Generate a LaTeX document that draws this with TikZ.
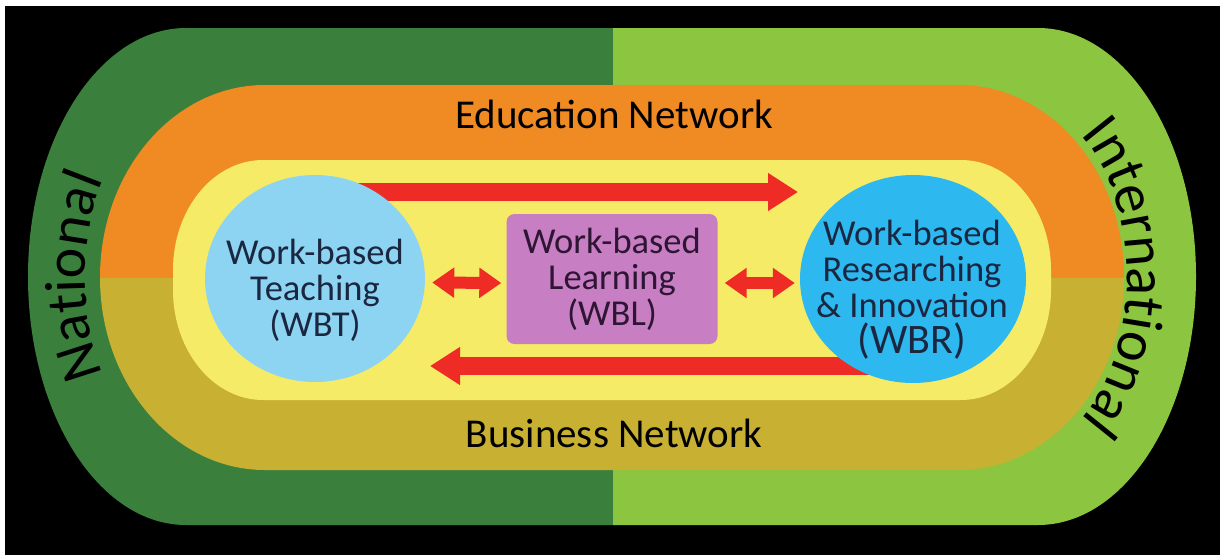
\documentclass[tikz,border=0pt]{standalone}
\usepackage{fontspec}
\setmainfont{Carlito}
\usetikzlibrary{arrows.meta,decorations.text,shapes.geometric}
\definecolor{dkgreen}{HTML}{3B7F3C}
\definecolor{ltgreen}{HTML}{8CC540}
\definecolor{orng}{HTML}{F08A22}
\definecolor{olivec}{HTML}{C8B032}
\definecolor{yel}{HTML}{F5EB66}
\definecolor{redarr}{HTML}{EE2B25}
\definecolor{ltblue}{HTML}{8DD4F2}
\definecolor{midblue}{HTML}{2DB8EF}
\definecolor{purp}{HTML}{C77EC3}
\definecolor{navy}{HTML}{1B2740}
\definecolor{dkpurp}{HTML}{2D1533}
\newcommand\curvefont{\fontsize{58}{58}\selectfont}
\begin{document}
\begin{tikzpicture}[x=1pt,y=-1pt,
  bigarrow/.style={draw=redarr, line width=18pt, -{Triangle[length=30pt,width=36pt]}},
  dblarrow/.style={draw=redarr, line width=12pt, {Triangle[length=22pt,width=29pt]}-{Triangle[length=22pt,width=29pt]}},
  bubble/.style={ellipse, draw=none, inner sep=0pt, minimum width=#1},
  innertext/.style={align=center, text=navy, font=\fontsize{36.5}{36}\selectfont},
  nettext/.style={text=black, font=\fontsize{41}{42}\selectfont, inner sep=0pt}]
\useasboundingbox (0,0) rectangle (1220,555);
\fill[white] (0,0) rectangle (1220,555);
\fill[black] (5,6) rectangle (1220,555);
% outer green band
\begin{scope}
\clip (186,28) -- (1038,28) arc[start angle=-90,end angle=90,x radius=158,y radius=248.5]
  -- (186,525) arc[start angle=90,end angle=270,x radius=158,y radius=248.5] -- cycle;
\fill[dkgreen] (0,0) rectangle (613,555);
\fill[ltgreen] (613,0) rectangle (1220,555);
\end{scope}
% orange / olive band
\begin{scope}
\clip (265,85) -- (959,85) arc[start angle=-90,end angle=90,x radius=165,y radius=192.5]
  -- (265,470) arc[start angle=90,end angle=270,x radius=165,y radius=192.5] -- cycle;
\fill[orng] (0,0) rectangle (1220,278);
\fill[olivec] (0,278) rectangle (1220,555);
\end{scope}
% yellow core
\fill[yel] (263,160) -- (961,160) arc[start angle=-90,end angle=0,x radius=90,y radius=110]
  -- (1051,290) arc[start angle=0,end angle=90,x radius=90,y radius=110]
  -- (263,400) arc[start angle=90,end angle=180,x radius=90,y radius=110]
  -- (173,270) arc[start angle=180,end angle=270,x radius=90,y radius=110] -- cycle;
% big arrows
\coordinate (ta1) at (330,192);
\coordinate (ta2) at (798,192);
\coordinate (ba1) at (880,366);
\coordinate (ba2) at (430,366);
\draw[bigarrow] (ta1) -- (ta2);
\draw[bigarrow] (ba1) -- (ba2);
% bubbles
\node[bubble=220pt, minimum height=207pt, fill=ltblue] (wbt) at (315,278.5) {};
\node[bubble=226pt, minimum height=208pt, fill=midblue] (wbr) at (913,279) {};
\node[innertext] (wbtt) at (315,290) {Work-based\\Teaching\\(WBT)};
\node[innertext] (wbrt) at (912,290) {Work-based\\Researching\\\& Innovation\\{\fontsize{42}{42}\selectfont(WBR)}};
\node[fill=purp, rounded corners=8pt, minimum width=211pt, minimum height=130pt,
  align=center, text=dkpurp, font=\fontsize{36.5}{36}\selectfont] (wbl) at (612,279) {Work-based\\Learning\\(WBL)};
% double arrows
\draw[dblarrow] ([xshift=7pt,yshift=-4pt]wbt.east) -- ([xshift=-5pt,yshift=-4pt]wbl.west);
\draw[dblarrow] ([xshift=7pt,yshift=-4pt]wbl.east) -- ([xshift=-5pt,yshift=-4pt]wbr.west);
% network labels
\node[nettext, anchor=base] (edu) at (614,128) {Education Network};
\node[nettext, anchor=base] (bus) at (614,447) {Business Network};
% curved labels
\path[decorate, decoration={text along path, text align=center, text={|\curvefont|National}}]
  (124.3,411.06) arc[start angle=130,end angle=230,x radius=110,y radius=175];
\path[decorate, decoration={text along path, text align=center, text={|\curvefont|International}}]
  (1063.49,118.4) arc[start angle=-65,end angle=65,x radius=110,y radius=175];
\end{tikzpicture}
\end{document}
